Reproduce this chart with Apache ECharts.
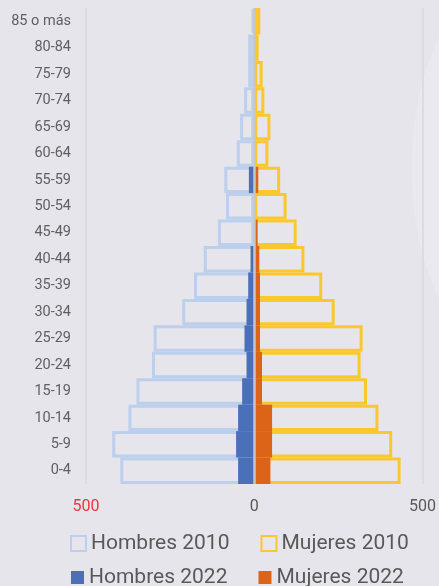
<!DOCTYPE html>
<html>
<head>
<meta charset="utf-8">
<script src="https://cdn.jsdelivr.net/npm/echarts@6/dist/echarts.min.js"></script>
<style>
html,body{margin:0;padding:0;background:#e6e5eb;}
#chart{width:439px;height:586px;}
</style>
</head>
<body>
<div id="chart"></div>
<script>
// Categories (bottom to top)
const categories = ['0-4','5-9','10-14','15-19','20-24','25-29','30-34','35-39','40-44','45-49','50-54','55-59','60-64','65-69','70-74','75-79','80-84','85 o más'];
const hombres2010 = [398, 422, 374, 350, 304, 299, 214, 179, 150, 108, 84, 89, 52, 42, 30, 18, 18, 8];
const mujeres2010 = [435, 410, 369, 335, 316, 322, 239, 202, 149, 126, 96, 77, 42, 48, 30, 25, 13, 18];
const hombres2022 = [48, 54, 48, 36, 23, 29, 23, 18, 11, 0, 0, 16, 0, 0, 0, 0, 0, 0];
const mujeres2022 = [48, 53, 53, 23, 23, 17, 17, 17, 15, 10, 0, 12, 0, 0, 0, 0, 0, 0];
const xTicks = { min: -500, max: 500, interval: 500 };

const chart = echarts.init(document.getElementById('chart'), null, { renderer: 'canvas' });
const txt = '#595959';
const font = 'Roboto, "Noto Sans", sans-serif';

chart.setOption({
  animation: false,
  backgroundColor: '#e6e5eb',
  graphic: [{
    type: 'ellipse',
    z: -10,
    silent: true,
    shape: { cx: 512, cy: 168, rx: 100, ry: 192 },
    style: { fill: '#eae9ef' }
  }],
  grid: { left: 86, right: 15, top: 8, bottom: 102, containLabel: false },
  legend: [{
    data: ['Hombres 2010', 'Mujeres 2010'],
    left: 70, top: 533,
    padding: 0,
    icon: 'rect',
    itemWidth: 15, itemHeight: 15, itemGap: 31,
    textStyle: { color: txt, fontSize: 21, fontFamily: font }
  }, {
    data: ['Hombres 2022', 'Mujeres 2022'],
    left: 71, top: 567,
    padding: 0,
    icon: 'rect',
    itemWidth: 13, itemHeight: 13, itemGap: 31,
    textStyle: { color: txt, fontSize: 21, fontFamily: font }
  }],
  xAxis: {
    type: 'value',
    min: xTicks.min, max: xTicks.max, interval: xTicks.interval,
    axisLine: { show: false },
    axisTick: { show: false },
    splitLine: { show: true, lineStyle: { color: '#d8d8d8', width: 1.5 } },
    axisLabel: {
      margin: 15,
      fontSize: 16,
      fontFamily: font,
      formatter: v => String(Math.abs(v)),
      color: v => (Number(v) < 0 ? '#e8383d' : txt)
    }
  },
  yAxis: {
    type: 'category',
    data: categories,
    axisLine: { show: false },
    axisTick: { show: false },
    axisLabel: { margin: 15, fontSize: 14.5, fontFamily: font, color: '#606060' }
  },
  series: [{
    name: 'Hombres 2010',
    type: 'bar',
    data: hombres2010.map(v => -v),
    barGap: '-100%',
    barCategoryGap: 0,
    itemStyle: { color: 'rgba(255,255,255,0)', borderColor: '#bccfec', borderWidth: 3 },
    z: 2,
    markLine: {
      silent: true,
      symbol: 'none',
      label: { show: false },
      lineStyle: { color: '#c6c7c3', width: 2.5, type: 'solid' },
      data: [{ xAxis: 0 }],
      z: 10
    }
  }, {
    name: 'Mujeres 2010',
    type: 'bar',
    data: mujeres2010,
    barGap: '-100%',
    barCategoryGap: 0,
    itemStyle: { color: 'rgba(255,255,255,0)', borderColor: '#fbc72e', borderWidth: 3 },
    z: 2
  }, {
    name: 'Hombres 2022',
    type: 'bar',
    data: hombres2022.map(v => -v),
    barGap: '-100%',
    barCategoryGap: 0,
    itemStyle: { color: '#4a71b7' },
    z: 3
  }, {
    name: 'Mujeres 2022',
    type: 'bar',
    data: mujeres2022,
    barGap: '-100%',
    barCategoryGap: 0,
    itemStyle: { color: '#dc6419' },
    z: 3
  }]
});
</script>
</body>
</html>
